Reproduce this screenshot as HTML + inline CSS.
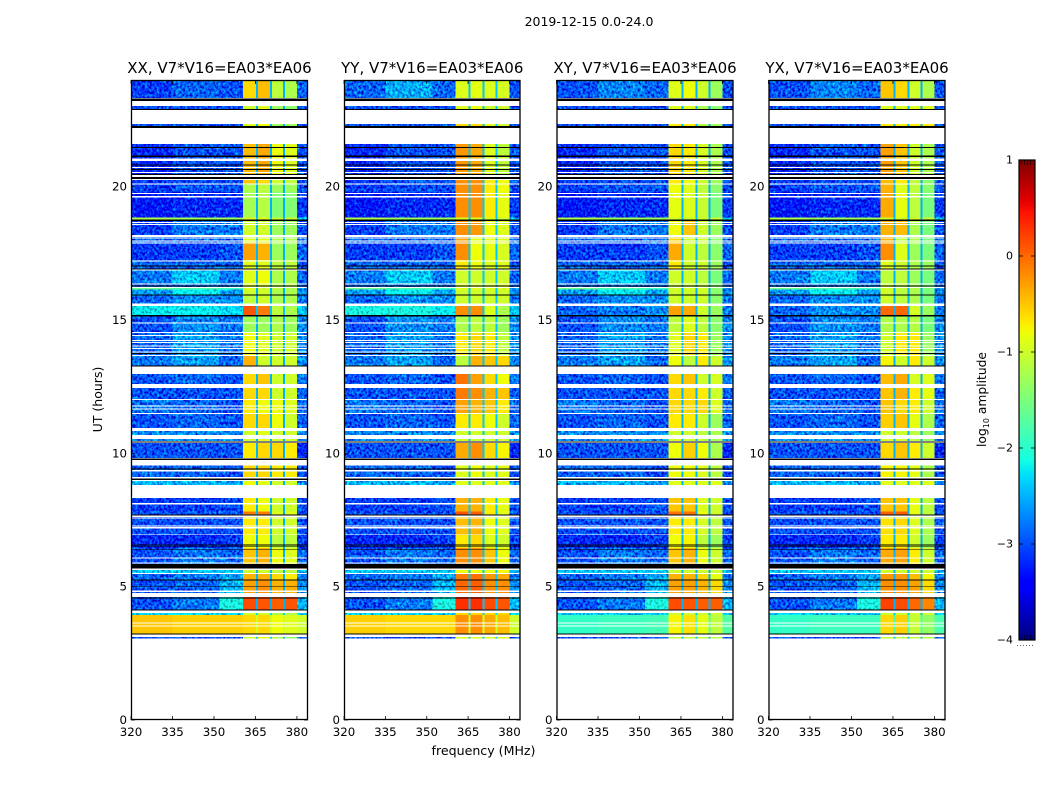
<!DOCTYPE html>
<html>
<head>
<meta charset="utf-8">
<title>2019-12-15 spectrogram</title>
<style>
html,body{margin:0;padding:0;background:#fff;}
svg{display:block;}
text{font-family:"DejaVu Sans","Liberation Sans",sans-serif;fill:#000;}
</style>
</head>
<body>
<svg id="chart" xmlns="http://www.w3.org/2000/svg" width="1050" height="800" viewBox="0 0 1050 800">
<defs>
<filter id="speckle" x="0" y="0" width="1" height="1" color-interpolation-filters="sRGB">
<feTurbulence type="fractalNoise" baseFrequency="0.42 0.36" numOctaves="2" seed="7" result="t"/>
<feColorMatrix in="t" type="matrix" values="0 0 0 0 0.5  1.5 0 0 0 -0.25  0.9 0 0 0 0.05  0 0 0 0 1" result="n"/>
<feComposite in="SourceGraphic" in2="n" operator="arithmetic" k1="0" k2="1" k3="1" k4="-0.5" result="m"/>
<feComposite in="m" in2="SourceAlpha" operator="in"/>
</filter>
<linearGradient id="jet-gradient" x1="0" y1="1" x2="0" y2="0"></linearGradient>
</defs>
<text x="589" y="26" font-size="12.5" text-anchor="middle">2019-12-15 0.0-24.0</text>
<text x="483.5" y="755" font-size="12.6" text-anchor="middle">frequency (MHz)</text>
<text transform="translate(102 399.5) rotate(-90)" font-size="12.5" text-anchor="middle">UT (hours)</text>
<g id="panels"></g>
<g id="colorbar"></g>
<text transform="translate(986 399.5) rotate(-90)" font-size="12.3" text-anchor="middle">log<tspan dy="3" font-size="8">10</tspan><tspan dy="-3"> amplitude</tspan></text>
</svg>
<script>
// ---- chart data ----
const panelTitles = ['XX, V7*V16=EA03*EA06','YY, V7*V16=EA03*EA06','XY, V7*V16=EA03*EA06','YX, V7*V16=EA03*EA06'];
const freqTicks = [320,335,350,365,380];
const hourTicks = [0,5,10,15,20];
const colorTicks = [-4,-3,-2,-1,0,1];
const freqRange = [320,384];
const hourRange = [0,24];
const colorRange = [-4,1];
// frequency edges of heatmap columns (MHz)
const freqEdges = [320,335,352,360.5,365.2,365.9,370.3,371,375,375.7,380,384];
// which level each column uses; -1 is the notch level
const columnLevel = [0,1,2,3,-1,4,-1,5,-1,6,7];
const notchLevels = [-2.5,-2.4,-2.5,-2.5];
// time blocks (UT hours)
const blockStart = [23.33,22.91,22.28,20.33,20.12,19.80,18.84,18.77,18.19,17.89,17.25,16.88,16.35,16.20,16.14,15.91,15.62,15.15,14.51,13.65,13.28,12.60,12.04,11.51,10.95,10.69,10.46,9.83,9.11,8.81,7.81,7.69,6.94,6.45,5.85,5.51,5.25,4.76,4.13,3.94,3.24,3.05,0];
const blockEnd = [24,23.03,22.35,21.60,20.25,20.12,19.80,18.84,18.71,18.19,17.89,17.25,16.88,16.35,16.20,16.14,15.91,15.53,15.15,14.51,13.65,12.98,12.45,12.00,11.48,10.84,10.54,10.39,9.55,8.96,8.33,7.81,7.65,6.94,6.45,5.63,5.48,5.25,4.61,4.02,3.94,3.12,0.04];
// XX log10 amplitude per block: bgLow, bgMid, bgHigh, band1, band2, band3, band4, tail
const blockLevels = [
[-3.1,-2.9,-3.0,-0.6,-0.45,-1.1,-1.2,-2.9],
[-3,-3,-3,-1,-0.9,-1.3,-1.4,-3],
[-3,-3,-3,-0.9,-0.8,-1.3,-1.3,-3],
[-3.2,-3,-3,-0.45,-0.35,-0.8,-0.9,-3],
[-3.1,-3,-3,-0.5,-0.6,-1,-1.1,-3],
[-3.1,-3,-3,-1.2,-1.1,-1.3,-1.3,-3],
[-3.3,-3.2,-3.2,-1.25,-1.15,-1.45,-1.45,-3.1],
[-1.2,-1.3,-1.3,-0.9,-0.9,-1,-1,-2.4],
[-3.1,-2.8,-2.8,-1,-1,-1.3,-1.3,-3],
[-2.9,-2.9,-2.9,-0.9,-0.9,-1.2,-1.2,-2.9],
[-3.1,-3.1,-3,-0.3,-0.4,-1.3,-1.3,-2.9],
[-2.9,-2.9,-2.9,-0.9,-0.9,-1.1,-1.1,-3],
[-2.8,-2.4,-2.8,-0.9,-0.8,-1.2,-1.2,-2.9],
[-2.9,-2.8,-2.8,-0.9,-0.9,-1.1,-1.1,-2.9],
[-1.6,-1.8,-1.9,-0.9,-1,-1.1,-1.2,-2.6],
[-2.6,-2.2,-2.6,-1,-1,-1.2,-1.2,-2.7],
[-2.9,-2.7,-2.7,-1.1,-1,-1.2,-1.2,-2.8],
[-2.2,-2.2,-2.3,0.1,-0.1,-1.1,-1.2,-2.4],
[-3,-2.7,-2.8,-1.3,-1.3,-1.2,-1.3,-2.7],
[-2.9,-2.6,-2.8,-0.8,-0.9,-1,-1,-2.7],
[-2.8,-2.6,-2.9,-0.4,-1,-1,-1,-2.7],
[-3,-2.9,-3,-0.6,-0.5,-1,-1,-2.8],
[-3,-3,-3,-0.6,-0.6,-1,-1,-2.9],
[-2.8,-2.9,-3,-0.7,-0.8,-0.8,-0.9,-2.9],
[-3,-2.9,-3,-0.6,-0.6,-0.8,-1,-2.9],
[-2.7,-2.7,-2.7,-1,-0.9,-1,-1,-2.7],
[-2.7,-2.7,-2.7,-1,-0.9,-1,-1,-2.7],
[-3,-3,-3,-0.7,-0.6,-0.6,-0.7,-3.2],
[-2.9,-2.9,-3,-0.6,-0.6,-0.7,-0.7,-3],
[-2.5,-2.5,-2.6,-0.8,-0.9,-1,-1,-2.7],
[-3.1,-3.1,-3,-0.7,-0.8,-1,-1,-3],
[-3,-3,-3,-0.1,-0.1,-0.9,-0.9,-3],
[-3,-3,-3,-0.7,-0.7,-1,-1,-3],
[-3.2,-3.2,-3.1,-0.8,-0.8,-1.1,-1.1,-3.1],
[-3,-2.8,-2.9,-0.5,-0.4,-0.8,-0.9,-2.9],
[-2.4,-2.4,-2.4,-1,-1,-1.1,-1.1,-2.5],
[-2.9,-2.8,-2.6,-0.4,-0.4,-0.6,-0.7,-2.8],
[-3,-2.9,-2.5,-0.3,-0.2,-0.4,-0.4,-2.7],
[-3,-2.8,-2.1,0.15,0.1,0.05,0.1,-2.5],
[-2.3,-2.3,-2.3,-1,-1,-1.2,-1.2,-2.3],
[-0.5,-0.55,-0.55,-0.6,-0.6,-0.8,-0.9,-1],
[-3,-3,-3,-1,-0.9,-1.2,-1.4,-3],
[-3,-3,-3,-1,-0.9,-1.2,-1.4,-3]
];
// band levels per block for the other polarisations
const yyBands = [[-0.9,-0.85,-0.9,-0.95],[-0.9,-0.8,-1,-1],[-0.6,-0.6,-0.9,-1],[-0.25,-0.35,-0.9,-1.1],[-0.2,-0.2,-0.7,-0.8],[-0.2,-0.2,-0.7,-0.8],[-0.2,-0.2,-0.7,-0.85],[-0.9,-0.9,-0.9,-1],[-0.2,-0.25,-0.8,-0.9],[-0.3,-0.85,-0.85,-0.9],[-0.2,-0.8,-0.85,-0.95],[-0.7,-0.8,-0.9,-0.9],[-1,-1,-1,-1],[-0.9,-0.9,-0.9,-0.9],[-0.9,-0.9,-0.9,-0.9],[-1,-1,-1,-1],[-1,-1,-1,-1],[-0.2,-0.2,-0.9,-1.2],[-1.2,-1.1,-1.1,-1.3],[-0.7,-0.6,-0.7,-1.1],[-1.1,-0.4,-0.5,-0.6],[-0.05,-0.3,-0.6,-0.8],[-0.1,-0.2,-0.4,-0.5],[-0.3,-0.4,-0.5,-0.7],[-0.7,-0.7,-0.8,-1],[-1,-1,-1,-1],[-1,-1,-1,-1],[-0.35,-0.2,-0.6,-0.75],[-0.9,-0.8,-0.9,-0.9],[-0.9,-0.9,-0.9,-0.9],[-0.4,-0.4,-0.7,-0.85],[0.1,0.05,-0.7,-0.9],[-0.45,-0.4,-0.8,-0.9],[-0.7,-0.6,-0.9,-1],[-0.2,-0.2,-0.5,-0.8],[-0.8,-0.8,-0.8,-0.8],[-0.1,-0.05,-0.25,-0.35],[0,0.05,-0.2,-0.2],[0.3,0.3,0.15,0.1],[-0.6,-0.6,-0.6,-0.6],[-0.2,-0.2,-0.35,-0.45],[-0.9,-0.9,-0.9,-0.9],[-0.9,-0.9,-0.9,-0.9]];
const xyBands = [[-0.9,-0.8,-1,-1.3],[-0.9,-0.9,-1.2,-1.4],[-0.7,-0.7,-1.2,-1.3],[-0.6,-0.7,-0.95,-1.2],[-0.7,-0.8,-1,-1.3],[-0.8,-0.9,-1.1,-1.4],[-0.85,-0.9,-1.05,-1.5],[-1,-1,-1,-1],[-0.8,-0.5,-1,-1.3],[-0.6,-1,-1,-1.4],[-0.35,-1,-1.1,-1.4],[-0.7,-1,-1,-1.3],[-1,-1,-1.1,-1.5],[-1,-1,-1,-1.4],[-1,-1,-1,-1.4],[-1,-1,-1,-1.4],[-1,-1,-1,-1.4],[-0.3,-0.35,-1,-1.3],[-1.1,-0.9,-1.1,-1.4],[-0.9,-0.6,-0.7,-1.3],[-0.8,-1.1,-0.7,-1],[-0.6,-0.5,-1,-0.95],[-0.6,-0.6,-0.7,-1],[-0.6,-0.6,-0.6,-0.9],[-0.7,-0.7,-1,-1.3],[-1,-1,-1.1,-1.2],[-1,-1,-1.1,-1.2],[-0.8,-0.55,-0.8,-1.2],[-0.8,-0.8,-0.9,-1.1],[-0.9,-0.9,-0.9,-0.9],[-0.5,-0.5,-0.9,-1],[-0.05,-0.05,-0.8,-1],[-0.7,-0.7,-0.95,-1.1],[-0.8,-0.75,-1.1,-1.3],[-0.5,-0.4,-0.8,-1],[-1,-1,-1,-1],[-0.4,-0.4,-0.6,-0.85],[-0.3,-0.3,-0.4,-0.6],[0.15,0.1,0.05,0.05],[-1,-1,-1,-1],[-0.75,-0.65,-0.85,-1.1],[-1.1,-1.1,-1.1,-1.1],[-1.1,-1.1,-1.1,-1.1]];
const yxBands = [[-0.5,-0.6,-1,-1.2],[-0.9,-0.9,-0.9,-0.9],[-0.7,-0.7,-0.7,-0.7],[-0.3,-0.5,-1,-1.2],[-0.45,-0.7,-1.1,-1.4],[-0.4,-0.9,-1.1,-1.4],[-0.35,-0.85,-1.1,-1.5],[-1,-1,-1,-1],[-0.4,-0.45,-1.2,-1.5],[-0.4,-1.1,-1.2,-1.5],[-0.2,-0.9,-1.3,-1.5],[-0.9,-1,-1.2,-1.3],[-1.1,-1.1,-1.3,-1.5],[-1,-1.1,-1.2,-1.5],[-1,-1.1,-1.2,-1.5],[-1,-1.1,-1.2,-1.5],[-1,-1.1,-1.2,-1.5],[0,0,-0.95,-1.3],[-1.2,-1.2,-1.15,-1.5],[-1,-0.7,-0.7,-1.3],[-0.75,-1,-0.7,-1],[-0.45,-0.35,-0.95,-0.9],[-0.5,-0.4,-0.7,-0.85],[-0.5,-0.6,-0.7,-1],[-0.55,-0.5,-0.85,-1.2],[-1,-1,-1.1,-1.3],[-1,-1,-1.1,-1.3],[-0.6,-0.5,-0.7,-1],[-0.75,-0.75,-0.85,-1.2],[-0.9,-0.9,-0.9,-0.9],[-0.5,-0.5,-0.85,-1.1],[0.05,0.05,-0.85,-1.1],[-0.65,-0.6,-0.9,-1.2],[-0.7,-0.7,-1,-1.3],[-0.35,-0.3,-0.7,-1],[-1,-1,-1,-1],[-0.25,-0.25,-0.45,-0.75],[-0.2,-0.2,-0.3,-0.6],[0.2,0.15,0,-0.15],[-1,-1,-1,-1],[-0.6,-0.55,-1.05,-1.35],[-1.1,-1.1,-1.1,-1.1],[-1.1,-1.1,-1.1,-1.1]];
// blocks whose background differs by polarisation: bgLow, bgMid, bgHigh, tail
const overrideBlocks = [0,17,39,40];
const yyBgOverride = [[-2.9,-2.55,-2.9,-3],[-2.1,-2.1,-2.2,-2.4],null,[-0.55,-0.6,-0.6,-1]];
const xyBgOverride = [[-3,-2.75,-2.9,-3],[-2.9,-2.8,-2.7,-2.8],[-2.4,-2.4,-2.4,-2.4],[-1.95,-1.9,-1.85,-1.75]];
const yxBgOverride = [[-3,-2.75,-2.9,-3],[-2.9,-2.7,-2.7,-2.8],[-2.4,-2.4,-2.4,-2.4],[-1.95,-1.9,-1.9,-1.8]];
// white (no data) intervals within blocks, UT hours
const gapTop = [21.05,20.74,20.55,20.44,20.12,19.76,19.65,18.68,18.60,18.19,18.06,17.99,17.90,17.23,16.89,16.37,16.24,14.90,14.55,14.44,14.25,14.18,14.05,13.95,13.82,13.69,11.79,11.68,9.38,8.13,7.65,7.59,7.29,7.23,6.96,6.10,5.90,5.66,5.51,4.85,3.65,3.54];
const gapBottom = [20.97,20.70,20.51,20.37,20.08,19.73,19.60,18.63,18.56,18.09,18.03,17.94,17.86,17.20,16.86,16.33,16.20,14.86,14.51,14.40,14.21,14.14,14.01,13.91,13.79,13.65,11.75,11.64,9.31,8.09,7.61,7.56,7.26,7.19,6.93,6.06,5.87,5.63,5.48,4.80,3.61,3.50];
// black flagged intervals, UT hours
const flagTop = [23.31,22.92,22.28,21.49,21.17,20.83,20.67,20.48,20.36,18.77,17.04,16.93,16.29,15.96,15.19,13.76,13.30,10.45,9.81,9.43,9.05,7.71,6.58,6.50,6.40,5.85,5.27,5.01,4.60,4.14,3.25];
const flagBottom = [23.21,22.88,22.20,21.45,21.12,20.79,20.62,20.44,20.29,18.71,17.00,16.89,16.25,15.91,15.14,13.72,13.26,10.40,9.75,9.39,9.00,7.67,6.55,6.48,6.38,5.69,5.24,4.98,4.55,4.11,3.20];

// ---- layout ----
const NS = 'http://www.w3.org/2000/svg';
const panelLeft = [131,344,556.5,768.5];
const panelWidth = [177,176.5,177,177];
const plotTop = 80, plotBottom = 720;
const cbLeft = 1019, cbRight = 1035, cbTop = 160, cbBottom = 640;
const panelBands = [null,yyBands,xyBands,yxBands];
const panelBgOverrides = [null,yyBgOverride,xyBgOverride,yxBgOverride];

function node(tag, attrs, parent) {
  const el = document.createElementNS(NS, tag);
  for (const k in attrs) el.setAttribute(k, attrs[k]);
  parent.appendChild(el);
  return el;
}
function yOf(h) { return plotBottom - (h - hourRange[0]) / (hourRange[1] - hourRange[0]) * (plotBottom - plotTop); }
function xOf(p, f) { return panelLeft[p] + (f - freqRange[0]) / (freqRange[1] - freqRange[0]) * panelWidth[p]; }
function ramp(t, a, b, c, d) {
  if (t <= a || t >= d) return 0;
  if (t < b) return (t - a) / (b - a);
  if (t <= c) return 1;
  return (d - t) / (d - c);
}
function jet(t) {
  t = Math.max(0, Math.min(1, t));
  const r = t > 0.89 ? 1 - (t - 0.89) / 0.11 * 0.5 : ramp(t, 0.35, 0.66, 0.89, 2);
  const g = ramp(t, 0.125, 0.375, 0.64, 0.91);
  const b = t < 0.11 ? 0.5 + t / 0.11 * 0.5 : ramp(t, -1, 0.11, 0.34, 0.65);
  return 'rgb(' + Math.round(r * 255) + ',' + Math.round(g * 255) + ',' + Math.round(b * 255) + ')';
}
function colorOf(v) { return jet((v - colorRange[0]) / (colorRange[1] - colorRange[0])); }
function levelsFor(p, b) {
  const levels = blockLevels[b].slice();
  if (panelBands[p]) {
    const bands = panelBands[p][b];
    for (let i = 0; i < 4; i++) levels[3 + i] = bands[i];
    const o = overrideBlocks.indexOf(b);
    if (o >= 0 && panelBgOverrides[p][o]) {
      const bg = panelBgOverrides[p][o];
      levels[0] = bg[0];
      levels[1] = bg[1];
      levels[2] = bg[2];
      levels[7] = bg[3];
    }
  }
  return levels;
}

const panelsRoot = document.getElementById('panels');
panelTitles.forEach(function (title, p) {
  const left = panelLeft[p], right = left + panelWidth[p];
  const panel = node('g', {}, panelsRoot);
  
  

  const bg = node('g', { filter: 'url(#speckle)', 'shape-rendering': 'crispEdges' }, panel);
  
  
  const band = node('g', { 'shape-rendering': 'crispEdges' }, panel);
  
  

  blockStart.forEach(function (start, b) {
    const levels = levelsFor(p, b);
    const yT = yOf(blockEnd[b]), yB = yOf(start);
    columnLevel.forEach(function (li, c) {
      const v = li < 0 ? Math.max(notchLevels[p], levels[7]) : levels[li];
      const x0 = xOf(p, freqEdges[c]), x1 = xOf(p, freqEdges[c + 1]);
      const target = v < -2.05 && li !== -1 ? bg : band;
      const cell = node('rect', { x: x0, y: yT, width: x1 - x0, height: yB - yT, fill: colorOf(v) }, target);
      
      
    });
  });

  gapTop.forEach(function (top, i) {
    const gap = node('rect', { x: left, y: yOf(top), width: panelWidth[p], height: yOf(gapBottom[i]) - yOf(top), fill: '#fff', 'shape-rendering': 'crispEdges' }, panel);
    
    
  });
  flagTop.forEach(function (top, i) {
    const flag = node('rect', { x: left, y: yOf(top), width: panelWidth[p], height: yOf(flagBottom[i]) - yOf(top), fill: '#000', 'shape-rendering': 'crispEdges' }, panel);
    
    
  });

  const frame = node('rect', { x: left + 0.5, y: plotTop + 0.5, width: panelWidth[p] - 1, height: plotBottom - plotTop - 1, fill: 'none', stroke: '#000', 'stroke-width': 1.3 }, panel);
  
  

  freqTicks.forEach(function (f) {
    const x = xOf(p, f);
    const tb = node('line', { x1: x, x2: x, y1: plotBottom, y2: plotBottom - 4, stroke: '#000', 'stroke-width': 0.8 }, panel);
    
    
    const tt = node('line', { x1: x, x2: x, y1: plotTop, y2: plotTop + 4, stroke: '#000', 'stroke-width': 0.8 }, panel);
    
    
    const lab = node('text', { x: x, y: 736, 'font-size': 11.8, 'text-anchor': 'middle' }, panel);
    
    
    lab.textContent = f;
  });
  hourTicks.forEach(function (h) {
    const y = yOf(h);
    const tl = node('line', { x1: left, x2: left + 4, y1: y, y2: y, stroke: '#000', 'stroke-width': 0.8 }, panel);
    
    
    const tr = node('line', { x1: right, x2: right - 4, y1: y, y2: y, stroke: '#000', 'stroke-width': 0.8 }, panel);
    
    
    const lab = node('text', { x: left - 4, y: y + 4, 'font-size': 11.8, 'text-anchor': 'end' }, panel);
    
    
    lab.textContent = h;
  });
  const t = node('text', { x: left + panelWidth[p] / 2, y: 73, 'font-size': 15, 'text-anchor': 'middle' }, panel);
  
  
  t.textContent = title;
});

// colorbar
const grad = document.getElementById('jet-gradient');
for (let i = 0; i <= 64; i++) {
  node('stop', { offset: i / 64, 'stop-color': jet(i / 64) }, grad);
}
const cb = document.getElementById('colorbar');
const cbFill = node('rect', { x: cbLeft, y: cbTop, width: cbRight - cbLeft, height: cbBottom - cbTop, fill: 'url(#jet-gradient)', stroke: '#000', 'stroke-width': 1.2 }, cb);


function cbY(v) { return cbBottom - (v - colorRange[0]) / (colorRange[1] - colorRange[0]) * (cbBottom - cbTop); }
colorTicks.forEach(function (v) {
  const y = cbY(v);
  const a = node('line', { x1: cbLeft, x2: cbLeft + 4, y1: y, y2: y, stroke: '#000', 'stroke-width': 0.8 }, cb);
  
  
  const b = node('line', { x1: cbRight, x2: cbRight - 4, y1: y, y2: y, stroke: '#000', 'stroke-width': 0.8 }, cb);
  
  
  const lab = node('text', { x: 1013, y: y + 3.5, 'font-size': 11, 'text-anchor': 'end' }, cb);
  
  
  lab.textContent = v < 0 ? '\u2212' + Math.abs(v) : String(v);
});
[cbTop, cbBottom - 5].forEach(function (y) {
  const m = node('line', { x1: cbLeft + 2, x2: cbRight - 2, y1: y + 2.5, y2: y + 2.5, stroke: '#000', 'stroke-width': 5, 'stroke-dasharray': '1 2', opacity: 0.7 }, cb);
  
  
});
const dots = node('line', { x1: 1017, x2: 1035, y1: 645.5, y2: 645.5, stroke: '#666', 'stroke-width': 1, 'stroke-dasharray': '1 2' }, cb);


</script>
</body>
</html>
